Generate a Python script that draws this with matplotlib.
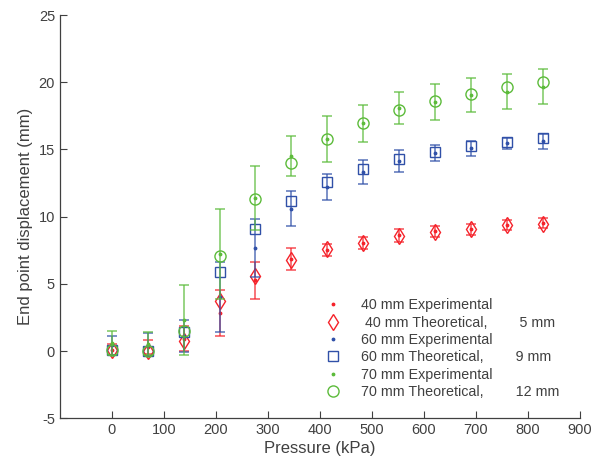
import matplotlib
matplotlib.use('Agg')
import matplotlib.pyplot as plt

plt.rcParams['font.family'] = ['Liberation Sans', 'DejaVu Sans']
plt.rcParams['axes.unicode_minus'] = False

# pressure steps (kPa)
pressure = [0, 69, 138, 207, 276, 345, 414, 483, 552, 621, 690, 759, 828]

# 40 mm
theo_40 = [0.05, 0.0, 0.72, 3.7, 5.6, 6.8, 7.57, 8.07, 8.56, 8.86, 9.06, 9.36, 9.48]
exp_40 = [0.1, 0.3, 0.93, 2.85, 5.25, 6.83, 7.55, 8.05, 8.6, 8.9, 9.07, 9.4, 9.53]
err_40 = [0.4, 0.55, 0.93, 1.7, 1.35, 0.83, 0.45, 0.45, 0.5, 0.4, 0.41, 0.38, 0.37]

# 60 mm
theo_60 = [0.05, 0.0, 1.4, 5.9, 9.1, 11.2, 12.6, 13.55, 14.27, 14.8, 15.24, 15.56, 15.88]
exp_60 = [0.43, 0.48, 1.1, 4.0, 7.65, 10.6, 12.2, 13.35, 14.15, 14.75, 15.09, 15.45, 15.6]
err_60 = [0.7, 0.88, 1.2, 2.6, 2.15, 1.3, 0.94, 0.9, 0.84, 0.6, 0.57, 0.41, 0.57]

# 70 mm
theo_70 = [0.05, 0.0, 1.47, 7.1, 11.35, 14.0, 15.8, 17.0, 17.97, 18.6, 19.16, 19.63, 20.0]
exp_70 = [0.6, 0.55, 2.3, 7.2, 11.4, 14.5, 15.8, 16.95, 18.1, 18.55, 19.05, 19.3, 19.66]
err_70 = [0.9, 0.85, 2.6, 3.35, 2.4, 1.5, 1.7, 1.37, 1.2, 1.35, 1.25, 1.3, 1.3]

series = [
    ("40 mm Experimental", " 40 mm Theoretical,        5 mm", exp_40, err_40, theo_40, '#f5222a', 'd', 8.5),
    ("60 mm Experimental", "60 mm Theoretical,        9 mm", exp_60, err_60, theo_60, '#3050a8', 's', 6.5),
    ("70 mm Experimental", "70 mm Theoretical,        12 mm", exp_70, err_70, theo_70, '#5cbb3a', 'o', 8),
]

fig = plt.figure(figsize=(5.93, 4.72), dpi=100)
ax = fig.add_axes([0.101, 0.114, 0.877, 0.854])

grey = '#404040'
for lab_exp, lab_theo, y, e, t, c, m, ms in series:
    ax.errorbar(pressure, y, yerr=e, fmt='none', ecolor=c, elinewidth=1.1,
                capsize=3.6, capthick=1.1, alpha=0.8)
    ax.plot(pressure, y, '.', color=c, markersize=3.5, label=lab_exp)
    ax.plot(pressure, t, m, color=c, markerfacecolor='none', markersize=ms,
            markeredgewidth=1.0, linestyle='none', label=lab_theo)

ax.set_xlim(-100, 900)
ax.set_ylim(-5, 25)
ax.set_xticks(range(0, 901, 100))
ax.set_yticks(range(-5, 26, 5))
ax.tick_params(direction='in', length=5, width=0.8, colors=grey, labelsize=10.5)
for s in ['top', 'right']:
    ax.spines[s].set_visible(False)
for s in ['left', 'bottom']:
    ax.spines[s].set_color(grey)
    ax.spines[s].set_linewidth(0.9)

ax.set_xlabel('Pressure (kPa)', fontsize=12, color=grey, labelpad=3)
ax.set_ylabel('End point displacement (mm)', fontsize=12, color=grey, labelpad=4)

ax.legend(loc='upper left', bbox_to_anchor=(0.49, 0.315), frameon=False,
          fontsize=10.3, handlelength=1.5, handletextpad=1.2, labelspacing=0.23,
          labelcolor=grey, borderpad=0)

fig.savefig('out.png', dpi=100)
